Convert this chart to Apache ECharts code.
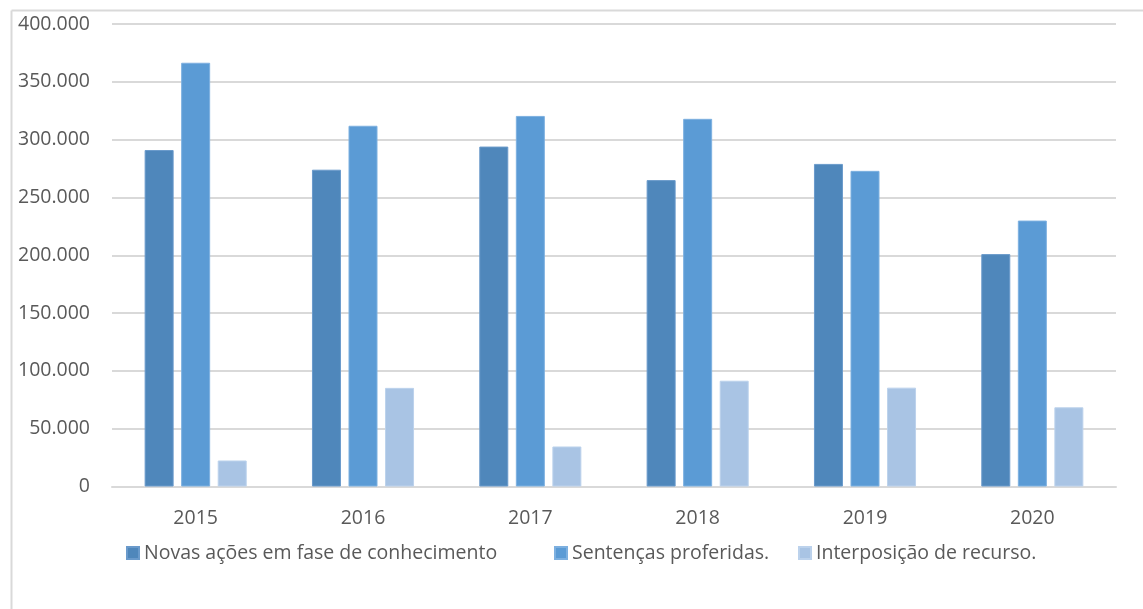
<!DOCTYPE html>
<html>
<head>
<meta charset="utf-8">
<script src="https://cdn.jsdelivr.net/npm/echarts@6/dist/echarts.min.js"></script>
<style>
html,body{margin:0;padding:0;background:#fff;}
#chart{width:1143px;height:609px;}
</style>
</head>
<body>
<div id="chart"></div>
<script>
const categories = ['2015', '2016', '2017', '2018', '2019', '2020'];
const novasAcoes = [291000, 274000, 294000, 265000, 279000, 201000];
const sentencas = [366500, 312000, 320500, 318000, 273000, 230000];
const interposicao = [22500, 85300, 34600, 91500, 85500, 68500];
const seriesNames = ['Novas ações em fase de conhecimento', 'Sentenças proferidas.', 'Interposição de recurso.'];
const yTicks = { min: 0, max: 400000, interval: 50000 };

const FONT = '"Open Sans", sans-serif';
const chart = echarts.init(document.getElementById('chart'));
function fmt(v) {
  return v === 0 ? '0' : String(v).replace(/\B(?=(\d{3})+(?!\d))/g, '.');
}
const legendLefts = [121, 549, 793];
const legends = seriesNames.map((n, i) => ({
  left: legendLefts[i], top: 538,
  itemWidth: 12, itemHeight: 12,
  icon: 'rect',
  textStyle: { color: '#595959', fontSize: 19.5, fontFamily: FONT },
  data: [n]
}));
chart.setOption({
  animation: false,
  backgroundColor: '#ffffff',
  textStyle: { fontFamily: FONT },
  graphic: [
    { type: 'line', shape: { x1: 11.5, y1: 10.5, x2: 1143, y2: 10.5 }, style: { stroke: '#d9d9d9', lineWidth: 2 }, silent: true },
    { type: 'line', shape: { x1: 11.5, y1: 10.5, x2: 11.5, y2: 609 }, style: { stroke: '#d9d9d9', lineWidth: 2 }, silent: true }
  ],
  grid: { left: 112, right: 27, top: 24, bottom: 122.5, containLabel: false },
  legend: legends,
  xAxis: {
    type: 'category',
    data: categories,
    axisLine: { show: true, lineStyle: { color: '#d9d9d9', width: 2 } },
    axisTick: { show: false },
    axisLabel: { color: '#595959', fontSize: 19.5, margin: 22, fontFamily: FONT }
  },
  yAxis: {
    type: 'value',
    min: yTicks.min, max: yTicks.max, interval: yTicks.interval,
    axisLine: { show: false },
    axisTick: { show: false },
    splitLine: { lineStyle: { color: '#d9d9d9', width: 2 } },
    axisLabel: { color: '#595959', fontSize: 19.5, margin: 22, fontFamily: FONT, formatter: fmt }
  },
  series: [
    { name: seriesNames[0], type: 'bar', data: novasAcoes, barWidth: 29, barGap: '26%',
      itemStyle: { color: '#4f87bb', borderColor: '#6a9acb', borderWidth: 1 } },
    { name: seriesNames[1], type: 'bar', data: sentencas, barWidth: 29, barGap: '26%',
      itemStyle: { color: '#5b9bd5', borderColor: '#7db0e0', borderWidth: 1 } },
    { name: seriesNames[2], type: 'bar', data: interposicao, barWidth: 29, barGap: '26%',
      itemStyle: { color: '#a9c4e4', borderColor: '#bcd2ec', borderWidth: 1 } }
  ]
});
</script>
</body>
</html>
